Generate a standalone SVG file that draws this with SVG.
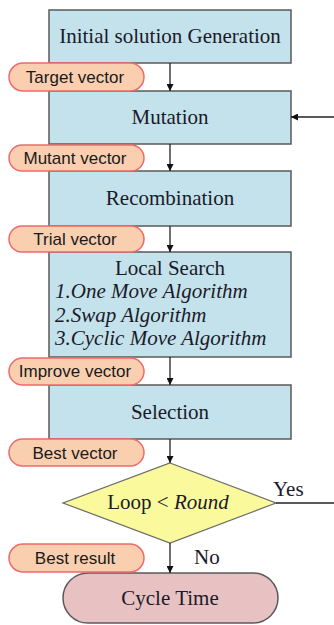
<svg xmlns="http://www.w3.org/2000/svg" width="334" height="625" viewBox="0 0 334 625">
  <defs>
    <marker id="arrow" viewBox="0 0 10 10" refX="10" refY="5" markerWidth="7" markerHeight="7" markerUnits="userSpaceOnUse" orient="auto">
      <path d="M0,0 L10,5 L0,10 z" fill="#111"/>
    </marker>
    <style>
      .box { fill: #c4e2eb; stroke: #5a5a5a; stroke-width: 1.5; }
      .pill { fill: #f9cfb0; stroke: #ef6a6a; stroke-width: 1.5; }
      .dec { fill: #fafa9c; stroke: #6a6a6a; stroke-width: 1.2; }
      .term { fill: #e8c2c2; stroke: #5a5a5a; stroke-width: 1.5; }
      .serif { font-family: "Liberation Serif", "Times New Roman", serif; font-size: 21px; fill: #1a1a2a; }
      .it { font-style: italic; }
      .sans { font-family: "Liberation Sans", Arial, sans-serif; font-size: 17px; fill: #1a1a1a; }
      .edge { stroke: #222; stroke-width: 1.3; fill: none; }
    </style>
  </defs>

  <!-- process boxes -->
  <g id="init">
    <rect class="box" x="49" y="10" width="242" height="53"/>
    <text class="serif" x="170" y="43" text-anchor="middle">Initial solution Generation</text>
  </g>
  <g id="mutation">
    <rect class="box" x="49" y="91" width="242" height="53"/>
    <text class="serif" x="170" y="124" text-anchor="middle">Mutation</text>
  </g>
  <g id="recombination">
    <rect class="box" x="49" y="171" width="242" height="55"/>
    <text class="serif" x="170" y="205" text-anchor="middle">Recombination</text>
  </g>
  <g id="local-search">
    <rect class="box" x="49" y="252" width="242" height="105"/>
    <text class="serif" x="170" y="275" text-anchor="middle">Local Search</text>
    <text class="serif it" x="55" y="298">1.One Move Algorithm</text>
    <text class="serif it" x="55" y="322">2.Swap Algorithm</text>
    <text class="serif it" x="55" y="345">3.Cyclic Move Algorithm</text>
  </g>
  <g id="selection">
    <rect class="box" x="49" y="385" width="242" height="54"/>
    <text class="serif" x="170" y="419" text-anchor="middle">Selection</text>
  </g>
  <g id="loop">
    <polygon class="dec" points="170,463 276,503 170,543 63,503"/>
    <text class="serif" x="168" y="509" text-anchor="middle">Loop &lt; <tspan class="it">Round</tspan></text>
  </g>
  <g id="cycle-time">
    <rect class="term" x="63" y="573" width="215" height="50" rx="25" ry="25"/>
    <text class="serif" x="170" y="605" text-anchor="middle">Cycle Time</text>
  </g>

  <!-- connectors -->
  <g id="connectors">
    <line class="edge" x1="170" y1="63" x2="170" y2="91" marker-end="url(#arrow)"/>
    <line class="edge" x1="170" y1="144" x2="170" y2="171" marker-end="url(#arrow)"/>
    <line class="edge" x1="170" y1="226" x2="170" y2="252" marker-end="url(#arrow)"/>
    <line class="edge" x1="170" y1="357" x2="170" y2="385" marker-end="url(#arrow)"/>
    <line class="edge" x1="170" y1="439" x2="170" y2="463" marker-end="url(#arrow)"/>
    <line class="edge" x1="170" y1="543" x2="170" y2="573" marker-end="url(#arrow)"/>
    <line class="edge" x1="334" y1="117" x2="291" y2="117" marker-end="url(#arrow)"/>
    <line class="edge" x1="276" y1="503" x2="334" y2="503"/>
    <text class="serif" x="273" y="496">Yes</text>
    <text class="serif" x="194" y="564">No</text>
  </g>

  <!-- data labels -->
  <g id="target-vector">
    <rect class="pill" x="9" y="63" width="135" height="28" rx="14" ry="14"/>
    <text class="sans" x="75" y="83" text-anchor="middle">Target vector</text>
  </g>
  <g id="mutant-vector">
    <rect class="pill" x="9" y="145" width="135" height="26" rx="13" ry="13"/>
    <text class="sans" x="75" y="164" text-anchor="middle">Mutant vector</text>
  </g>
  <g id="trial-vector">
    <rect class="pill" x="9" y="226" width="135" height="26" rx="13" ry="13"/>
    <text class="sans" x="75" y="245" text-anchor="middle">Trial vector</text>
  </g>
  <g id="improve-vector">
    <rect class="pill" x="9" y="358" width="135" height="27" rx="13.5" ry="13.5"/>
    <text class="sans" x="75" y="377" text-anchor="middle">Improve vector</text>
  </g>
  <g id="best-vector">
    <rect class="pill" x="9" y="439" width="135" height="27" rx="13.5" ry="13.5"/>
    <text class="sans" x="75" y="459" text-anchor="middle">Best vector</text>
  </g>
  <g id="best-result">
    <rect class="pill" x="9" y="544" width="135" height="28" rx="14" ry="14"/>
    <text class="sans" x="75" y="564" text-anchor="middle">Best result</text>
  </g>
</svg>
